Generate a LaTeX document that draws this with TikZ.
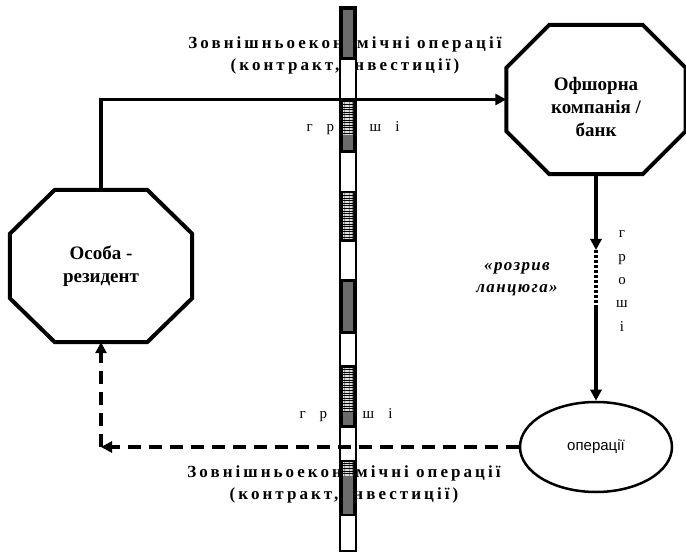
\documentclass[tikz,border=0pt]{standalone}
\usepackage{fontspec}
\setmainfont{Liberation Serif}
\setsansfont{Liberation Sans}
\newfontfamily\widefont[LetterSpace=18]{Liberation Serif}
\newfontfamily\italfont[LetterSpace=8]{Liberation Serif}
\usetikzlibrary{arrows.meta,shapes.geometric,patterns.meta,calc}

% octagonal outline around a rectangular node: #1 node, #2 x-chamfer, #3 y-chamfer
\newcommand\chamferoutline[3]{%
  \draw[octline] ([xshift=#2]#1.north west) -- ([xshift=-#2]#1.north east)
    -- ([yshift=-#3]#1.north east) -- ([yshift=#3]#1.south east)
    -- ([xshift=-#2]#1.south east) -- ([xshift=#2]#1.south west)
    -- ([yshift=#3]#1.south west) -- ([yshift=-#3]#1.north west) -- cycle;}

\tikzset{
  octbox/.style={rectangle, inner sep=0pt, align=center,
    font=\fontsize{19}{23}\selectfont\bfseries},
  octline/.style={line width=4pt, line join=miter},
  opstext/.style={font=\fontsize{17}{22}\selectfont\widefont\bfseries, align=center, inner sep=0pt},
  money/.style={font=\fontsize{15}{23.3}\selectfont, inner sep=0pt, align=center},
  breaktext/.style={font=\fontsize{17}{22}\selectfont\italfont\bfseries\itshape, align=center, inner sep=0pt},
  flow/.style={line width=3.5pt, -{Triangle[length=11pt,width=11pt]}},
  dashflow/.style={line width=4.5pt, dash pattern=on 13pt off 8pt,
    -{Triangle[length=11pt,width=11pt,sep=0pt]}},
  gapline/.style={line width=3.5pt, dash pattern=on 3.5pt off 1.5pt},
  barframe/.style={draw=black, line width=2.2pt, fill=white},
  darkblock/.style={fill=black},
  dotfill/.style={pattern={Dots[distance=2pt,radius=0.85pt]}, pattern color=white!85!black},
  stripefill/.style={pattern={Lines[angle=0,distance=2.6pt,line width=1.5pt]}, pattern color=white!85!black},
}

\begin{document}
\begin{tikzpicture}[x=1pt,y=-1pt]
\useasboundingbox (0,0) rectangle (686,553);

% texts that lie under the border bar
\node[opstext] (extop) at (345,55) {Зовнішньоекономічні операції\\(контракт, інвестиції)};
\node[opstext] (extbot) at (344,484) {Зовнішньоекономічні операції\\(контракт, інвестиції)};
\node[money] (moneytop) at (353,128) {г\hspace{14pt}р\hspace{14pt}о\hspace{14pt}ш\hspace{14pt}і};
\node[money] (moneybot) at (346,415) {г\hspace{14pt}р\hspace{14pt}о\hspace{14pt}ш\hspace{14pt}і};

% the border bar with its shaded blocks
\draw[barframe] (340,7) rectangle (356,551);
\foreach \ya/\yb in {7/60, 100/153, 191/242, 279/334, 365/428, 460/516}
  \fill[darkblock] (339,\ya) rectangle (357,\yb);
\fill[dotfill] (343,10) rectangle (353,57);
\fill[stripefill] (343,103) rectangle (353,135);
\fill[dotfill] (343,135) rectangle (353,150);
\fill[stripefill] (343,194) rectangle (353,239);
\fill[dotfill] (343,282) rectangle (353,331);
\fill[stripefill] (343,368) rectangle (353,412);
\fill[dotfill] (343,412) rectangle (353,425);
\fill[stripefill] (343,463) rectangle (353,476);
\fill[dotfill] (343,476) rectangle (353,513);

% parties
\node[octbox, minimum width=182pt, minimum height=152pt] (res) at (101,266) {Особа -\\резидент};
\chamferoutline{res}{45pt}{44pt}
\node[octbox, minimum width=179pt, minimum height=149pt] (off) at (596,99.5) {};
\node[octbox] (offtext) at (596,107) {Офшорна\\компанія /\\банк};
\chamferoutline{off}{43pt}{43pt}
\node[ellipse, draw, line width=2.5pt, minimum width=152pt, minimum height=90pt, inner sep=0pt,
  font=\sffamily\fontsize{15}{18}\selectfont] (ops) at (596,447) {операції};

% outgoing money
\draw[flow] (res.north) |- (off.west);

% broken chain between the offshore party and the operations
\coordinate (brk1) at (596,250);
\coordinate (brk2) at (596,306);
\draw[flow] (off.south) -- (brk1);
\draw[gapline] (brk1) -- (brk2);
\draw[flow] (brk2) -- (ops.north);
\node[money] (moneyside) at (622,281) {г\\р\\о\\ш\\і};
\node[breaktext] (breaklbl) at (517,279) {«розрив\\ланцюга»};

% money coming back
\coordinate (turn) at (res.south |- ops.west);
\draw[dashflow] (ops.west) -- (turn);
\draw[dashflow] (turn) -- (res.south);
\end{tikzpicture}
\end{document}
